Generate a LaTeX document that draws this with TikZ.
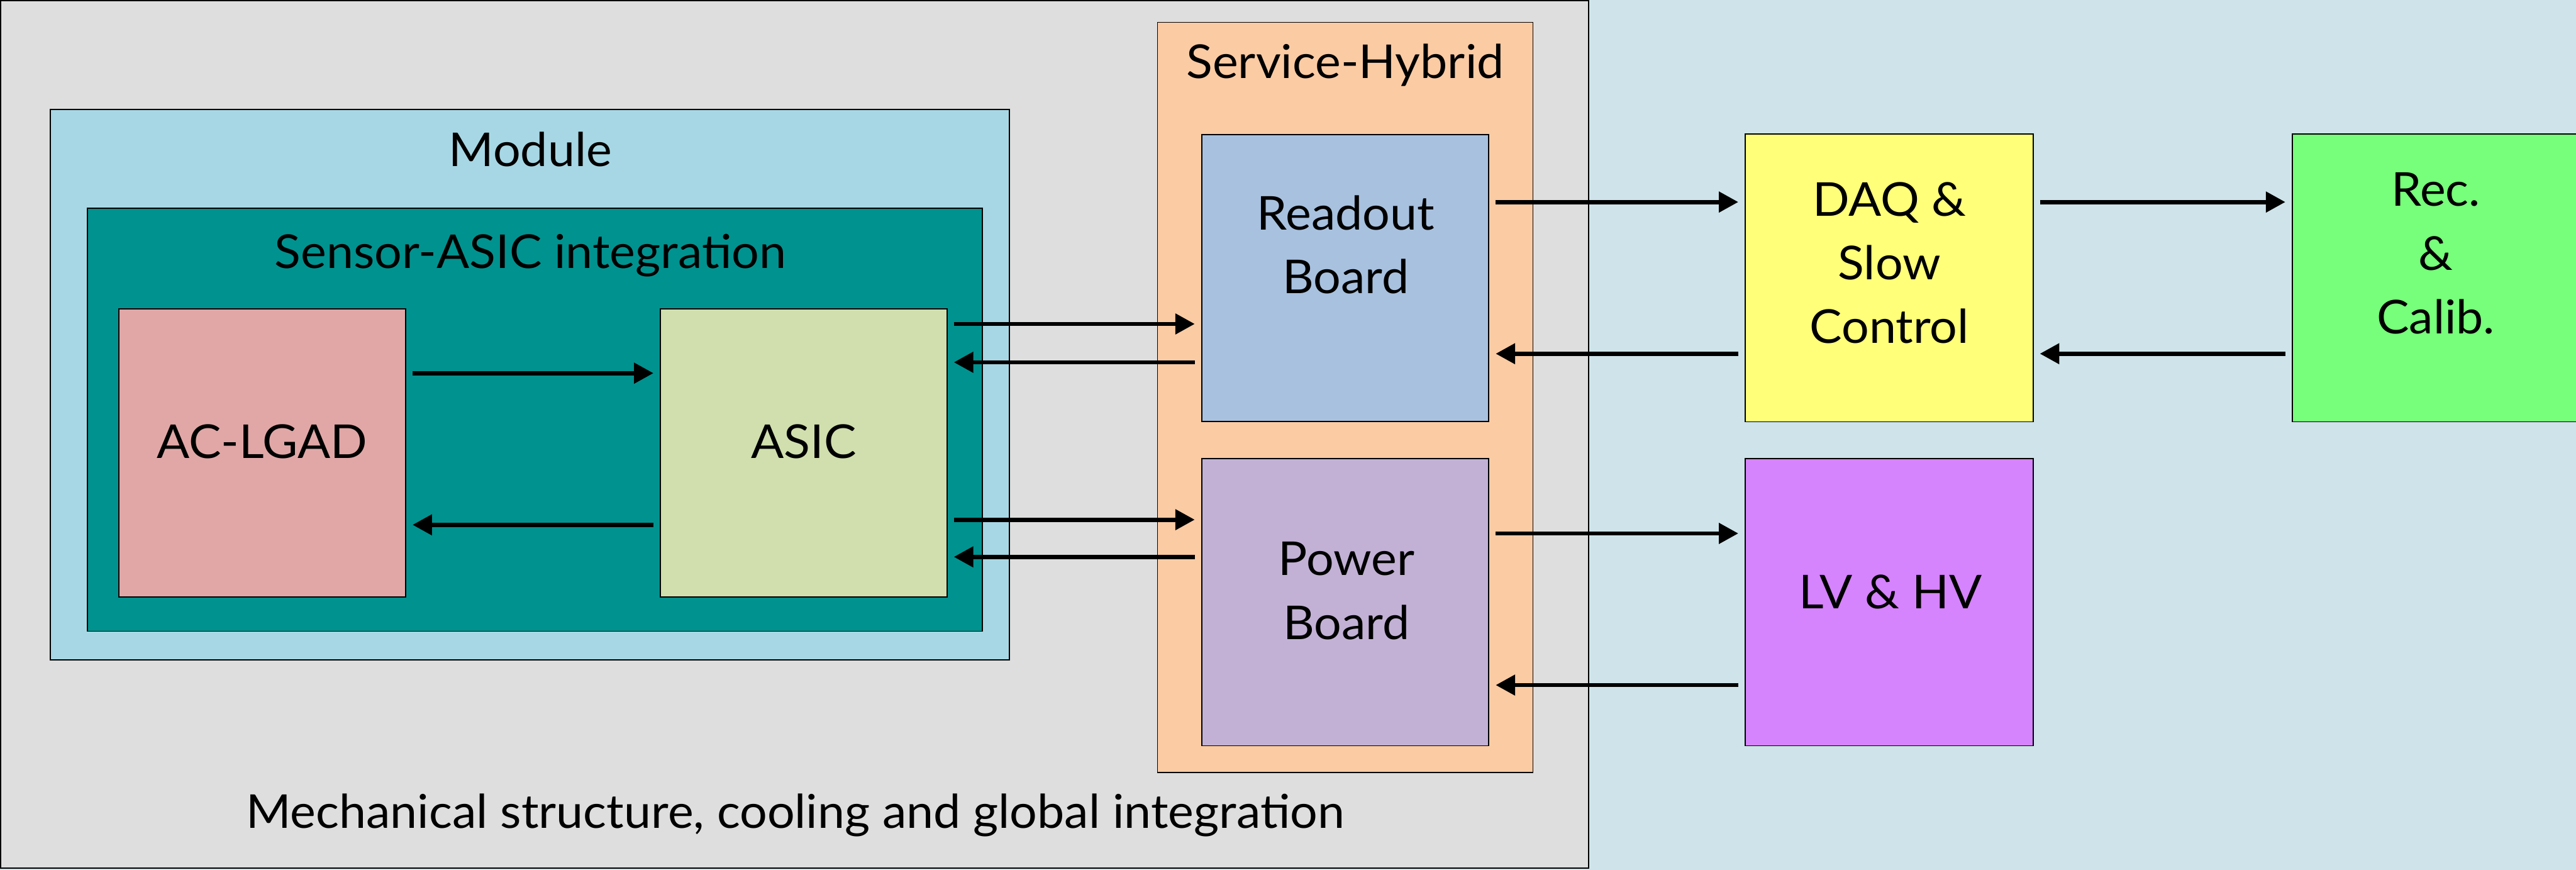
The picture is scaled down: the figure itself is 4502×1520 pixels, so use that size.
\documentclass[tikz,border=0pt]{standalone}
\usepackage{fontspec}
\setmainfont{Lato}[FakeStretch=1.04]
\usepackage{tikz}
\usetikzlibrary{fit,arrows.meta}

\definecolor{outside}{HTML}{CEE4EA}
\definecolor{mechgray}{HTML}{DEDEDE}
\definecolor{modblue}{HTML}{A7D7E4}
\definecolor{saiteal}{HTML}{00928F}
\definecolor{lgadpink}{HTML}{E1A7A7}
\definecolor{asicgreen}{HTML}{D0DFAD}
\definecolor{shpeach}{HTML}{FBCBA4}
\definecolor{rbblue}{HTML}{A8C1DF}
\definecolor{pblilac}{HTML}{C2B1D5}
\definecolor{daqyellow}{HTML}{FFFF7A}
\definecolor{recgreen}{HTML}{77FE7A}
\definecolor{lvviolet}{HTML}{D683FE}

\begin{document}
\begin{tikzpicture}[x=0.1mm,y=-0.1mm,
  blk/.style={draw=black, line width=0.2mm, inner sep=0pt, outer sep=0pt},
  txt/.style={inner sep=0pt, anchor=base, align=center,
    font=\fontsize{23.2}{31.7}\selectfont},
  arr/.style={-{Triangle[length=3.4mm,width=3.5mm]}, line width=0.75mm,
    shorten <=1.2mm, shorten >=1.2mm}]
  \useasboundingbox (0,0) rectangle (4502,1520);
  \fill[outside] (0,0) rectangle (4502,1520);

  %% Nested containers
  \node[blk, fill=mechgray, fit={(1,1) (2776,1517)}] (MECH) {};
  \node[blk, fill=modblue, fit={(88,191) (1764,1153)}] (MOD) {};
  \node[blk, fill=saiteal, fit={(153,364) (1717,1103)}] (SAI) {};
  \node[blk, fill=shpeach, fit={(2023,39) (2679,1350)}] (SH) {};

  %% Blocks
  \node[blk, fill=lgadpink, fit={(208,540) (709,1043)}] (LGAD) {};
  \node[blk, fill=asicgreen, fit={(1154,540) (1655,1043)}] (ASIC) {};
  \node[blk, fill=rbblue, fit={(2100,235) (2602,736)}] (RB) {};
  \node[blk, fill=pblilac, fit={(2100,801) (2602,1303)}] (PB) {};
  \node[blk, fill=daqyellow, fit={(3050,234) (3553,737)}] (DAQ) {};
  \node[blk, fill=recgreen, fit={(4006,234) (4508,737)}] (REC) {};
  \node[blk, fill=lvviolet, fit={(3050,801) (3553,1303)}] (LV) {};

  %% Labels (base = last line)
  \node[txt] (MECHTXT) at (1390,1447) {Mechanical structure, cooling and global integration};
  \node[txt] (MODTXT) at (927,291) {Module};
  \node[txt] (SAITXT) at (927,469) {Sensor-ASIC integration};
  \node[txt] (SHTXT) at (2351,137) {Service-Hybrid};
  \node[txt] (LGADTXT) at (458,801) {AC-LGAD};
  \node[txt] (ASICTXT) at (1405,801) {ASIC};
  \node[txt] (RBTXT) at (2352,513) {Readout\\Board};
  \node[txt] (PBTXT) at (2353,1117) {Power\\Board};
  \node[txt] (DAQTXT) at (3302,600) {DAQ \&\\Slow\\Control};
  \node[txt] (RECTXT) at (4257,583) {Rec.\\\&\\Calib.};
  \node[txt] (LVTXT) at (3304,1063) {LV \& HV};

  %% Links between blocks
  \foreach \a/\b/\y in {LGAD.east/ASIC.west/652, ASIC.west/LGAD.east/917,
      ASIC.east/RB.west/566, RB.west/ASIC.east/633,
      ASIC.east/PB.west/908, PB.west/ASIC.east/973,
      RB.east/DAQ.west/353, DAQ.west/RB.east/618,
      DAQ.east/REC.west/353, REC.west/DAQ.east/618,
      PB.east/LV.west/932, LV.west/PB.east/1197}
  {
    \draw[arr] (\a |- 0,\y) -- (\b |- 0,\y);
  }
\end{tikzpicture}
\end{document}
